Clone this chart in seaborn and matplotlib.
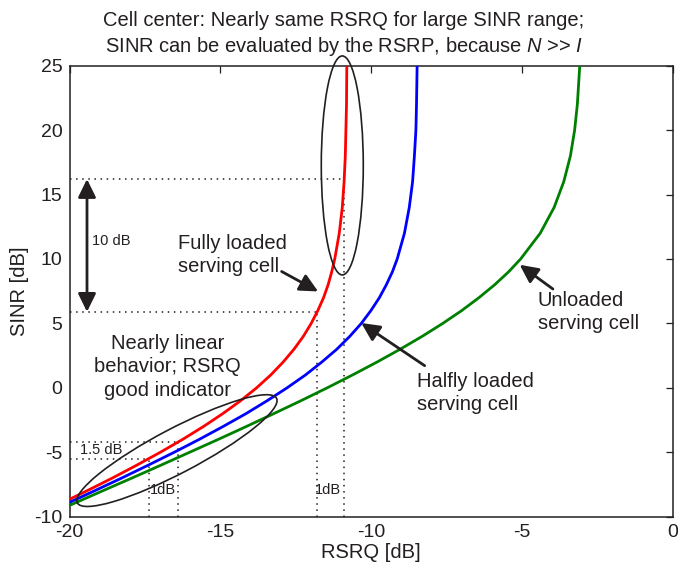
import matplotlib
matplotlib.use("Agg")
import matplotlib.pyplot as plt
import pandas as pd
import seaborn as sns
from matplotlib.patches import Ellipse
from matplotlib.transforms import ScaledTranslation

# ---- data ----
sinr_db = [-10, -9, -8, -7, -6, -5, -4, -3, -2, -1, 0, 1, 2, 3, 4, 5, 6, 7, 8, 9,
           10, 12, 14, 16, 18, 20, 22, 25]
rsrq_fully_loaded = [-21.21, -20.31, -19.43, -18.58, -17.77, -16.99, -16.25, -15.56,
                     -14.92, -14.33, -13.80, -13.33, -12.92, -12.56, -12.25, -11.99,
                     -11.77, -11.58, -11.43, -11.31, -11.21, -11.06, -10.96, -10.90,
                     -10.86, -10.84, -10.82, -10.81]
rsrq_halfly_loaded = [-21.04, -20.10, -19.18, -18.27, -17.39, -16.53, -15.70, -14.91,
                      -14.15, -13.45, -12.79, -12.18, -11.64, -11.14, -10.71, -10.33,
                      -10.01, -9.73, -9.50, -9.30, -9.14, -8.90, -8.74, -8.63,
                      -8.57, -8.52, -8.50, -8.48]
rsrq_unloaded = [-20.86, -19.88, -18.91, -17.93, -16.97, -16.02, -15.07, -14.14,
                 -13.23, -12.33, -11.46, -10.62, -9.81, -9.04, -8.31, -7.63,
                 -7.00, -6.43, -5.91, -5.45, -5.05, -4.40, -3.94, -3.62,
                 -3.40, -3.26, -3.17, -3.09]
load_names = ["fully", "halfly", "unloaded"]

x_ticks = [-20, -15, -10, -5, 0]
y_ticks = [-10, -5, 0, 5, 10, 15, 20, 25]

# dotted guide lines (SINR level, RSRQ where it meets the red curve)
guide_sinr_db = [16.2, 5.9, -4.2, -5.5]
guide_rsrq_db = [-10.9, -11.8, -16.4, -17.38]

df = pd.concat([
    pd.DataFrame({"RSRQ": rsrq_fully_loaded, "SINR": sinr_db, "load": load_names[0]}),
    pd.DataFrame({"RSRQ": rsrq_halfly_loaded, "SINR": sinr_db, "load": load_names[1]}),
    pd.DataFrame({"RSRQ": rsrq_unloaded, "SINR": sinr_db, "load": load_names[2]}),
], ignore_index=True)

sns.set_theme(style="white")
plt.rcParams.update({
    "font.family": ["Liberation Sans", "DejaVu Sans"],
    "mathtext.fontset": "custom",
    "mathtext.rm": "Liberation Sans",
    "mathtext.it": "Liberation Sans:italic",
    "axes.unicode_minus": False,
    "text.color": "#231f20",
})

W, H = 678, 567
fig = plt.figure(figsize=(W / 100, H / 100), dpi=100)
left, right, top, bottom = 69.5, 673, 65.7, 516.7
ax = fig.add_axes([left / W, (H - bottom) / H, (right - left) / W, (bottom - top) / H])

sns.lineplot(data=df, x="RSRQ", y="SINR", hue="load",
             palette={"fully": "#ff0000", "halfly": "#0000ff", "unloaded": "#008000"},
             sort=False, estimator=None, lw=2.0, legend=False, ax=ax, zorder=3)

ax.set_xlim(-20, 0)
ax.set_ylim(-10, 25)
ax.set_xticks(x_ticks)
ax.set_yticks(y_ticks)
ax.set_xlabel("RSRQ [dB]", fontsize=14.5, color="#231f20", labelpad=2)
ax.set_ylabel("SINR [dB]", fontsize=14.5, color="#231f20", labelpad=4)
ax.tick_params(direction="in", top=True, right=True, length=5, width=0.9,
               labelsize=14, colors="#231f20", pad=5)
for s in ax.spines.values():
    s.set_linewidth(1.1)
    s.set_color("#231f20")

# title (two lines)
fig.text(344 / W, 1 - 20 / H, "Cell center: Nearly same RSRQ for large SINR range;",
         ha="center", va="center", fontsize=14.5)
fig.text(344 / W, 1 - 46 / H, r"SINR can be evaluated by the RSRP, because $N$ >> $I$",
         ha="center", va="center", fontsize=14.5)

# dotted guides
dot = dict(color="#231f20", lw=1.1, linestyle=(0, (1, 3)), zorder=2)
for sv, rv in zip(guide_sinr_db, guide_rsrq_db):
    ax.plot([-20, rv], [sv, sv], **dot)
    ax.plot([rv, rv], [-10, sv], **dot)

# ellipses (sizes in inches, centred in data coords)
e1 = Ellipse((0, 0), 0.42, 2.19, angle=0,
             transform=fig.dpi_scale_trans + ScaledTranslation(-10.96, 17.26, ax.transData),
             fill=False, edgecolor="#231f20", lw=1.2, clip_on=False, zorder=4)
e2 = Ellipse((0, 0), 2.25, 0.445, angle=27.7,
             transform=fig.dpi_scale_trans + ScaledTranslation(-16.44, -4.87, ax.transData),
             fill=False, edgecolor="#231f20", lw=1.2, clip_on=False, zorder=4)
ax.add_artist(e1)
ax.add_artist(e2)

arrow_kw = dict(arrowstyle="-|>,head_length=0.55,head_width=0.27", lw=2.0,
                color="#231f20", mutation_scale=20, shrinkA=0, shrinkB=0)
# 10 dB double arrow
ax.annotate("", xy=(-19.42, 5.9), xytext=(-19.42, 16.2),
            arrowprops=dict(arrow_kw, arrowstyle="<|-|>,head_length=0.55,head_width=0.27"))
ax.text(-19.25, 11.4, "10 dB", fontsize=10.5, ha="left", va="center")

ax.text(-16.4, 10.3, "Fully loaded\nserving cell", fontsize=14.5, ha="left", va="center",
        linespacing=1.3)
ax.annotate("", xy=(-11.76, 7.48), xytext=(-12.97, 9.03), arrowprops=arrow_kw)

ax.text(-16.74, 1.65, "Nearly linear\nbehavior; RSRQ\ngood indicator", fontsize=14.5,
        ha="center", va="center", linespacing=1.3)

ax.text(-8.49, -0.4, "Halfly loaded\nserving cell", fontsize=14.5, ha="left", va="center",
        linespacing=1.3)
ax.annotate("", xy=(-10.33, 5.03), xytext=(-8.23, 1.72), arrowprops=arrow_kw)

ax.text(-4.49, 5.87, "Unloaded\nserving cell", fontsize=14.5, ha="left", va="center",
        linespacing=1.3)
ax.annotate("", xy=(-5.08, 9.55), xytext=(-3.98, 7.67), arrowprops=arrow_kw)

ax.text(-19.65, -4.85, "1.5 dB", fontsize=10.5, ha="left", va="center")
ax.text(-16.91, -7.9, "1dB", fontsize=10.5, ha="center", va="center")
ax.text(-11.42, -7.9, "1dB", fontsize=10.5, ha="center", va="center")

fig.savefig("out.png", dpi=100)
